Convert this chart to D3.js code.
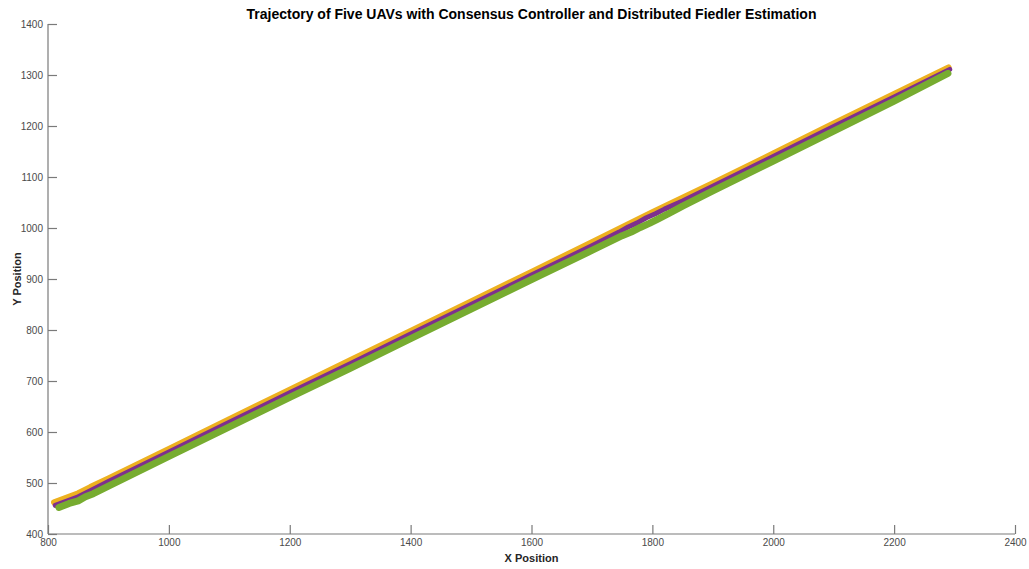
<!DOCTYPE html>
<html>
<head>
<meta charset="utf-8">
<script src="https://cdn.jsdelivr.net/npm/d3@7"></script>
<style>
  html, body { margin: 0; padding: 0; background: #fff; }
  svg { display: block; font-family: Arial, "Liberation Sans", Helvetica, sans-serif; }
</style>
</head>
<body>
<svg id="chart" width="1029" height="569"></svg>
<script>
// Trajectories of the five UAVs (x, y positions along the flight)
const uav1X = [812, 850, 900, 1000, 1200, 1400, 1600, 1750, 1790, 1850, 2000, 2200, 2291];
const uav1Y = [458, 475, 505, 563, 679, 794, 910, 998, 1021, 1054, 1141, 1258, 1311];
const uav2X = [812, 850, 900, 1000, 1200, 1400, 1600, 1750, 1790, 1850, 2000, 2200, 2291];
const uav2Y = [459, 476, 506, 564, 680, 795, 911, 999, 1022, 1055, 1142, 1259, 1312];
const uav3X = [810, 830, 850, 870, 900, 1000, 1100, 1200, 1300, 1400, 1500, 1600, 1700, 1800, 1900, 2000, 2100, 2200, 2290];
const uav3Y = [462, 471, 480, 492, 509, 567, 625, 683, 741, 798, 856, 914, 972, 1031, 1088, 1146, 1205, 1263, 1315];
const uav4X = [812, 830, 850, 870, 900, 1000, 1100, 1200, 1300, 1400, 1500, 1600, 1700, 1745, 1760, 1775, 1790, 1805, 1820, 1850, 1900, 2000, 2100, 2200, 2292];
const uav4Y = [456, 464, 473, 485, 503, 561, 619, 677, 734, 792, 850, 908, 965, 992, 1002, 1010, 1020, 1028, 1037, 1053, 1082, 1140, 1199, 1257, 1311];
const uav5X = [818, 835, 850, 862, 875, 900, 1000, 1100, 1200, 1300, 1400, 1500, 1600, 1700, 1750, 1765, 1780, 1795, 1810, 1825, 1850, 1900, 2000, 2100, 2200, 2289];
const uav5Y = [452, 460, 465, 473, 479, 494, 552, 610, 668, 725, 783, 841, 899, 956, 985, 992, 1001, 1009, 1018, 1027, 1043, 1073, 1131, 1190, 1249, 1303];

const uavNames = ["UAV 1", "UAV 2", "UAV 3", "UAV 4", "UAV 5"];
const uavColors = ["#0072BD", "#D95319", "#EDB120", "#7E2F8E", "#77AC30"];
const xTicks = [800, 1000, 1200, 1400, 1600, 1800, 2000, 2200, 2400];
const yTicks = [400, 500, 600, 700, 800, 900, 1000, 1100, 1200, 1300, 1400];

const series = [
  { name: uavNames[0], xs: uav1X, ys: uav1Y, color: uavColors[0], width: 4 },
  { name: uavNames[1], xs: uav2X, ys: uav2Y, color: uavColors[1], width: 4 },
  { name: uavNames[2], xs: uav3X, ys: uav3Y, color: uavColors[2], width: 6 },
  { name: uavNames[3], xs: uav4X, ys: uav4Y, color: uavColors[3], width: 5 },
  { name: uavNames[4], xs: uav5X, ys: uav5Y, color: uavColors[4], width: 7 }
];

const svg = d3.select("#chart");
const plotLeft = 48, plotRight = 1015, plotTop = 24, plotBottom = 534;

const x = d3.scaleLinear().domain([800, 2400]).range([plotLeft, plotRight]);
const y = d3.scaleLinear().domain([400, 1400]).range([plotBottom, plotTop]);

const axisColor = "#7a7a7a";
const textColor = "#4a4a4a";

// Flight paths
const line = d3.line().x(d => x(d[0])).y(d => y(d[1]));
svg.append("g")
  .selectAll("path")
  .data(series)
  .join("path")
  .attr("d", s => line(s.xs.map((v, i) => [v, s.ys[i]])))
  .attr("fill", "none")
  .attr("stroke", s => s.color)
  .attr("stroke-width", s => s.width)
  .attr("stroke-linecap", "round")
  .attr("stroke-linejoin", "round");

// Axes with inward ticks, no box
const xAxis = d3.axisBottom(x).tickValues(xTicks).tickSize(-9).tickPadding(5).tickFormat(d3.format("d"));
const yAxis = d3.axisLeft(y).tickValues(yTicks).tickSize(-9).tickPadding(5).tickFormat(d3.format("d"));

const gx = svg.append("g").attr("transform", `translate(0,${plotBottom})`).call(xAxis);
const gy = svg.append("g").attr("transform", `translate(${plotLeft},0)`).call(yAxis);

[gx, gy].forEach(g => {
  g.select(".domain").attr("stroke", axisColor).attr("stroke-width", 1.2);
  g.selectAll(".tick line").attr("stroke", axisColor).attr("stroke-width", 1.2);
  g.selectAll(".tick text").attr("fill", textColor).attr("font-size", 10)
    .attr("font-family", "Arial, 'Liberation Sans', sans-serif");
});
gx.select(".domain").attr("d", `M${plotLeft},0H${plotRight}`);
gy.select(".domain").attr("d", `M0,${plotBottom}V${plotTop}`);

// Title and axis labels
svg.append("text")
  .attr("x", (plotLeft + plotRight) / 2).attr("y", 19)
  .attr("text-anchor", "middle")
  .attr("font-size", 14).attr("font-weight", "bold").attr("fill", "#000")
  .text("Trajectory of Five UAVs with Consensus Controller and Distributed Fiedler Estimation");

svg.append("text")
  .attr("x", (plotLeft + plotRight) / 2).attr("y", 562)
  .attr("text-anchor", "middle")
  .attr("font-size", 11).attr("font-weight", "bold").attr("fill", "#262626")
  .text("X Position");

svg.append("text")
  .attr("transform", `translate(21,${(plotTop + plotBottom) / 2}) rotate(-90)`)
  .attr("text-anchor", "middle")
  .attr("font-size", 11).attr("font-weight", "bold").attr("fill", "#262626")
  .text("Y Position");
</script>
</body>
</html>
